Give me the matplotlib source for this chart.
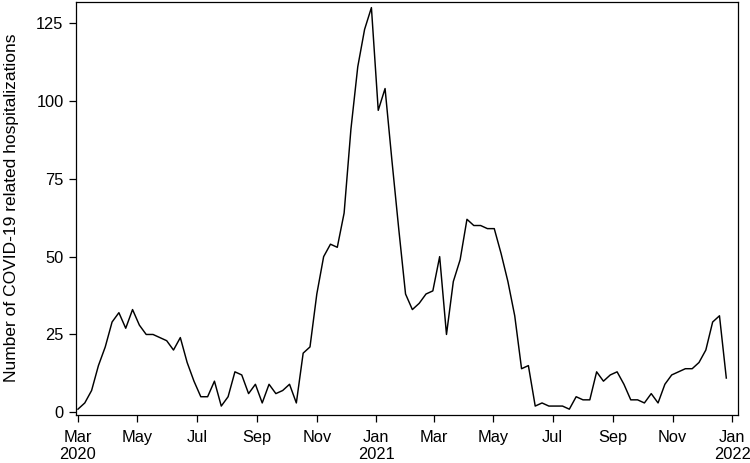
import matplotlib
matplotlib.use("Agg")
import matplotlib.pyplot as plt
import pandas as pd

plt.rcParams['font.family'] = ['Liberation Sans', 'DejaVu Sans']

start_date = "2020-03-01"
hospitalizations = [
    1, 3, 7, 15, 21, 29, 32, 27, 33, 28, 25, 25, 24, 23, 20, 24, 16, 10,
    5, 5, 10, 2, 5, 13, 12, 6, 9, 3, 9, 6, 7, 9, 3, 19, 21,
    38, 50, 54, 53, 64, 91, 111, 123, 130,
    97, 104, 81, 59, 38, 33, 35, 38, 39, 50, 25, 42, 49,
    62, 60, 60, 59, 59, 51, 42, 31, 14, 15,
    2, 3, 2, 2, 2, 1, 5, 4, 4, 13, 10, 12, 13, 9, 4, 4, 3, 6, 3, 9,
    12, 13, 14, 14, 16, 20, 29, 31, 11,
]
dates = pd.date_range(start_date, periods=len(hospitalizations), freq="7D")

tick_dates = pd.date_range("2020-03-01", "2022-01-01", freq="2MS")
tick_labels = []
for d in tick_dates:
    lab = d.strftime("%b")
    if d == tick_dates[0] or d.month == 1:
        lab += "\n" + str(d.year)
    tick_labels.append(lab)

y_ticks = [0, 25, 50, 75, 100, 125]
y_label = "Number of COVID-19 related hospitalizations"

fig = plt.figure(figsize=(7.5, 4.63), dpi=100)
ax = fig.add_axes([76/750, 1 - 415/463, (738 - 76)/750, (415 - 2)/463])
ax.plot(dates, hospitalizations, color="black", lw=1.05)

ax.set_xlim(pd.Timestamp("2020-02-28"), pd.Timestamp("2022-01-07"))
ax.set_ylim(-0.87, 131.8)
ax.set_xticks(tick_dates)
ax.set_xticklabels(tick_labels)
ax.set_yticks(y_ticks)
ax.set_ylabel(y_label, fontsize=12.5)
ax.yaxis.set_label_coords(-0.0855, 0.502)
ax.tick_params(axis="both", labelsize=11.8, length=5, width=0.9, color="black")
ax.tick_params(axis="x", pad=5.5)
ax.tick_params(axis="y", pad=4)
for s in ax.spines.values():
    s.set_linewidth(0.9)

fig.savefig("out.png", dpi=100)
